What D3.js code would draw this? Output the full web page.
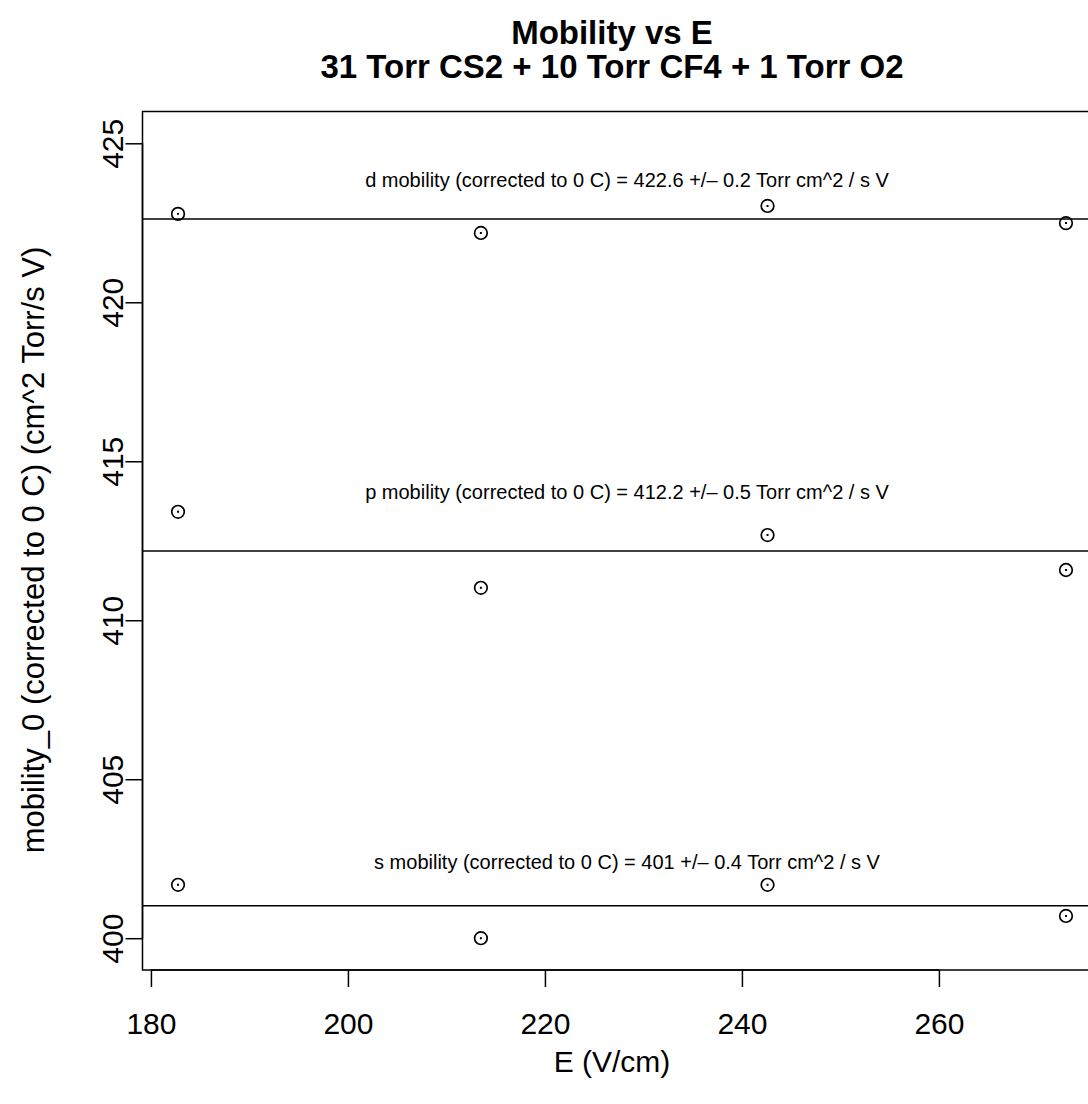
<!DOCTYPE html>
<html><head><meta charset="utf-8">
<script src="https://cdn.jsdelivr.net/npm/d3@7"></script>
<style>body{margin:0;background:#fff}svg{display:block}text{font-family:"Liberation Sans",Arial,Helvetica,sans-serif;fill:#000}</style>
</head><body>
<script>
const E = [182.75, 213.5, 242.6, 272.9];
const seriesNames = ["d", "p", "s"];
const dMob = [422.78, 422.18, 423.03, 422.49];
const pMob = [413.41, 411.02, 412.68, 411.58];
const sMob = [401.68, 400.0, 401.68, 400.70];
const dErr = [0.03, 0.07, 0.07, 0.08];
const pErr = [0.03, 0.06, 0.12, 0.04];
const sErr = [0.03, 0.07, 0.07, 0.03];
const fitMean = [422.62, 412.18, 401.02];
const fitLabels = [
  "d mobility (corrected to 0 C) = 422.6 +/\u2013 0.2 Torr cm^2 / s V",
  "p mobility (corrected to 0 C) = 412.2 +/\u2013 0.5 Torr cm^2 / s V",
  "s mobility (corrected to 0 C) = 401 +/\u2013 0.4 Torr cm^2 / s V"
];
const labelY = [423.85, 414.03, 402.40];
const xTicks = [180, 200, 220, 240, 260];
const yTicks = [400, 405, 410, 415, 420, 425];
const yLim = [400, 425];

const W = 1088, H = 1104;
const mLeft = 142.5, mRight = 1101.5, mTop = 111.5, mBottom = 970;
const FONT = '"Liberation Sans",Arial,Helvetica,sans-serif';
const svg = d3.select("body").append("svg").attr("width", W).attr("height", H);

const xPad = (d3.max(E) - d3.min(E)) * 0.04;
const x = d3.scaleLinear().domain([d3.min(E) - xPad, d3.max(E) + xPad]).range([mLeft, mRight]);
const yPad = (yLim[1] - yLim[0]) * 0.04;
const y = d3.scaleLinear().domain([yLim[0] - yPad, yLim[1] + yPad]).range([mBottom, mTop]);

// box
svg.append("rect").attr("x", mLeft).attr("y", mTop).attr("width", mRight - mLeft).attr("height", mBottom - mTop)
  .attr("fill", "none").attr("stroke", "#000").attr("stroke-width", 1.5);

// x axis
const xAxis = svg.append("g").attr("transform", `translate(0,${mBottom})`)
  .call(d3.axisBottom(x).tickValues(xTicks).tickSize(17).tickPadding(26).tickFormat(d3.format("d")));
xAxis.select(".domain").attr("d", `M${x(180)},0H${x(260)}`).attr("stroke-width", 1.5);
xAxis.selectAll(".tick line").attr("stroke-width", 1.5);
xAxis.selectAll("text").attr("font-size", 30).attr("font-family", FONT);

// y axis
const yAxis = svg.append("g").attr("transform", `translate(${mLeft},0)`)
  .call(d3.axisLeft(y).tickValues(yTicks).tickSize(17).tickFormat(d3.format("d")));
yAxis.select(".domain").attr("d", `M0,${y(400)}V${y(425)}`).attr("stroke-width", 1.5);
yAxis.selectAll(".tick line").attr("stroke-width", 1.5);
yAxis.selectAll("text").attr("font-size", 30).attr("font-family", FONT)
  .attr("x", null).attr("dy", "0.36em")
  .attr("transform", "translate(-30,0) rotate(-90)")
  .attr("text-anchor", "middle");

// fit lines
svg.append("clipPath").attr("id", "clip").append("rect")
  .attr("x", mLeft).attr("y", mTop).attr("width", mRight - mLeft).attr("height", mBottom - mTop);
const plot = svg.append("g").attr("clip-path", "url(#clip)");
plot.selectAll("line.fit").data(fitMean).join("line").attr("class", "fit")
  .attr("x1", mLeft).attr("x2", mRight).attr("y1", d => y(d)).attr("y2", d => y(d))
  .attr("stroke", "#000").attr("stroke-width", 1.5);

// labels
const xMid = x((x.domain()[0] + x.domain()[1]) / 2) + 5;
plot.selectAll("text.lab").data(fitLabels).join("text").attr("class", "lab")
  .attr("x", xMid).attr("y", (d, i) => y(labelY[i])).attr("dy", "0.35em")
  .attr("text-anchor", "middle").attr("font-size", 20).text(d => d);

// points
const series = [[dMob, dErr], [pMob, pErr], [sMob, sErr]];
series.forEach(([vals, errs]) => {
  const pts = vals.map((v, i) => ({ e: E[i], v, err: errs[i] }));
  const g = plot.append("g");
  g.selectAll("circle").data(pts).join("circle")
    .attr("cx", d => x(d.e)).attr("cy", d => y(d.v)).attr("r", 6.3)
    .attr("fill", "none").attr("stroke", "#000").attr("stroke-width", 1.7);
  g.selectAll("line").data(pts).join("line")
    .attr("x1", d => x(d.e)).attr("x2", d => x(d.e))
    .attr("y1", d => Math.min(y(d.v - d.err), y(d.v) + 1)).attr("y2", d => Math.max(y(d.v + d.err), y(d.v) - 1))
    .attr("stroke", "#000").attr("stroke-width", 2);
});

// titles
svg.append("text").attr("x", 612).attr("y", 44).attr("text-anchor", "middle")
  .attr("font-size", 33).attr("font-weight", "bold").text("Mobility vs E");
svg.append("text").attr("x", 612).attr("y", 78).attr("text-anchor", "middle")
  .attr("font-size", 33).attr("font-weight", "bold").text("31 Torr CS2 + 10 Torr CF4 + 1 Torr O2");
svg.append("text").attr("x", 612).attr("y", 1072).attr("text-anchor", "middle")
  .attr("font-size", 30).text("E (V/cm)");
svg.append("text").attr("transform", `translate(44,550) rotate(-90)`)
  .attr("text-anchor", "middle").attr("font-size", 31)
  .text("mobility_0 (corrected to 0 C) (cm^2 Torr/s V)");
</script>
</body></html>
